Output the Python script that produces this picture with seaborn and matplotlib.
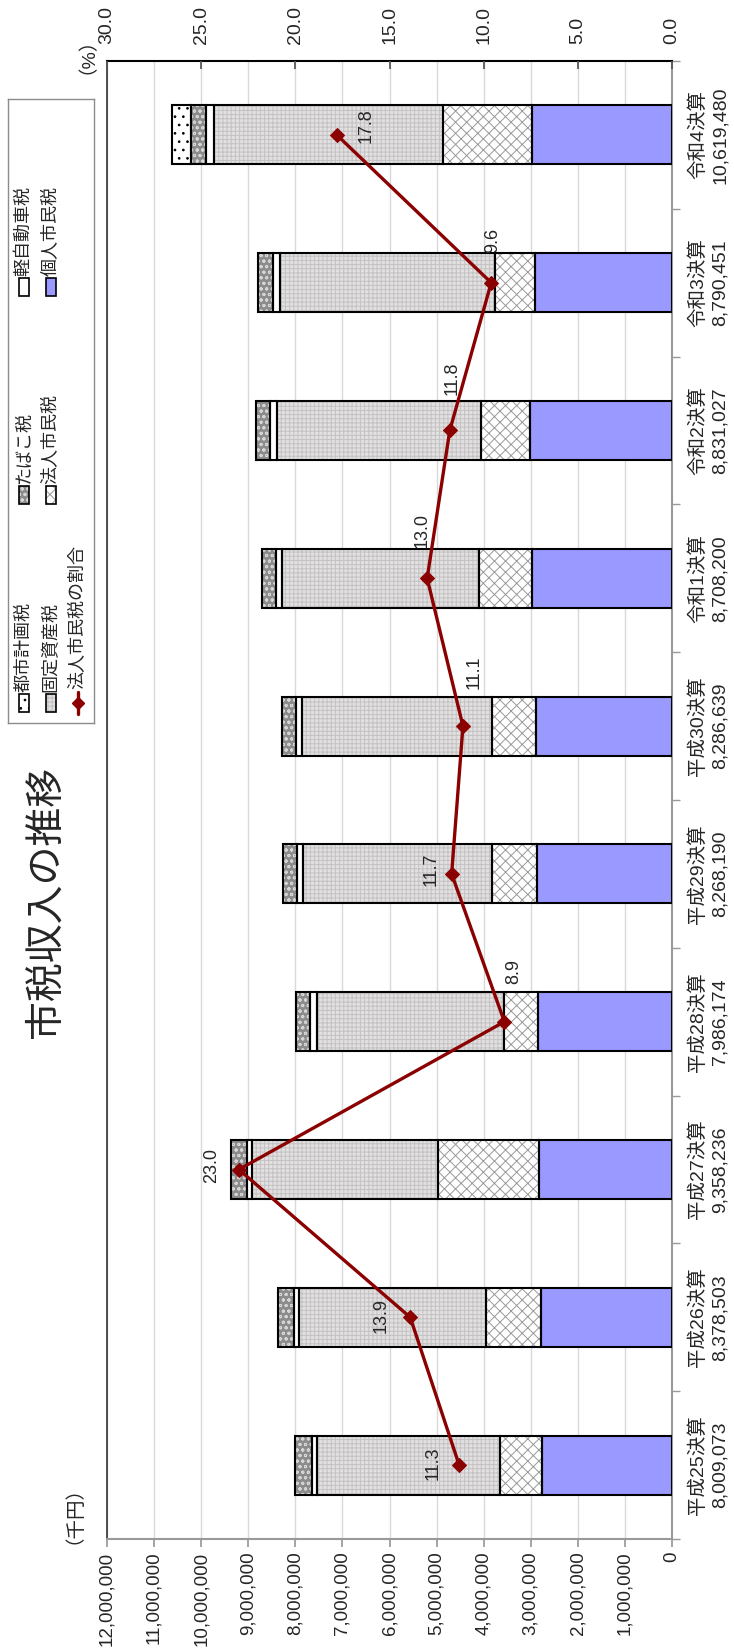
import numpy as np
import matplotlib
matplotlib.use("Agg")
import matplotlib.pyplot as plt
import seaborn as sns
from matplotlib.patches import Rectangle
from matplotlib.lines import Line2D

# ---------------- data ----------------
categories = ["平成25決算", "平成26決算", "平成27決算", "平成28決算", "平成29決算",
              "平成30決算", "令和1決算", "令和2決算", "令和3決算", "令和4決算"]
totals = [8009073, 8378503, 9358236, 7986174, 8268190,
          8286639, 8708200, 8831027, 8790451, 10619480]
kojin = [2754000, 2785000, 2816000, 2848000, 2864000, 2896000, 2975000, 3014000, 2911000, 2967000]
houjin = [905000, 1165000, 2152000, 711000, 967000, 920000, 1132000, 1042000, 844000, 1890000]
kotei = [3887000, 3975000, 3955000, 3991000, 4010000, 4036000, 4166000, 4340000, 4569000, 4868000]
keiji = [110000, 105000, 111000, 135000, 127000, 142000, 135000, 150000, 158000, 166000]
tabako = [353000, 348000, 324000, 301000, 300000, 293000, 300000, 285000, 308000, 317000]
toshi = [0, 0, 0, 0, 0, 0, 0, 0, 0, 411000]
houjin_ratio = [11.3, 13.9, 23.0, 8.9, 11.7, 11.1, 13.0, 11.8, 9.6, 17.8]
value_ticks = [0, 1000000, 2000000, 3000000, 4000000, 5000000, 6000000,
               7000000, 8000000, 9000000, 10000000, 11000000, 12000000]
pct_ticks = [0, 5, 10, 15, 20, 25, 30]
series_names = ["個人市民税", "法人市民税", "固定資産税", "軽自動車税", "たばこ税", "都市計画税"]
ratio_name = "法人市民税の割合"
title = "市税収入の推移"

# ---------------- styles ----------------
LINE_COLOR = "#8b0000"
styles = {
    "個人市民税": dict(fc="#9999ff", hatch=None, hc="none"),
    "法人市民税": dict(fc="white", hatch="xxx", hc="#9a9a9a"),
    "固定資産税": dict(fc="#e2e0e0", hatch="++++", hc="#c4c2c2"),
    "軽自動車税": dict(fc="white", hatch=None, hc="none"),
    "たばこ税": dict(fc="#8c8c8c", hatch="ooo", hc="#d6d6d6"),
    "都市計画税": dict(fc="white", hatch="..", hc="black"),
}
# label offsets (px, right / down) for the ratio data labels
label_offsets = [(-26, -2), (-29, -2), (-27, -4), (9, -50), (-21, -5),
                 (11, -54), (-5, -48), (2, -52), (1, -42), (29, -9)]

sns.set_theme(style="white")
plt.rcParams["font.family"] = ["Liberation Sans", "Noto Sans CJK JP", "DejaVu Sans"]
plt.rcParams["hatch.linewidth"] = 0.7
plt.rcParams["axes.unicode_minus"] = False

W, H = 734, 1650
fig = plt.figure(figsize=(W / 100, H / 100), dpi=100)
fig.patch.set_facecolor("white")

def fx(px):
    return px / W

def fy(py):
    return 1 - py / H

ax = fig.add_axes([fx(107), fy(1539), fx(672) - fx(107), fy(61) - fy(1539)])
ax.set_facecolor("white")

n = len(categories)
ypos = np.arange(n)
bar_h = 0.40
data_series = [kojin, houjin, kotei, keiji, tabako, toshi]

left = np.zeros(n)
for name, vals in zip(series_names, data_series):
    v = np.array(vals, dtype=float)
    m = v > 0
    st = styles[name]
    if st["hatch"]:
        ax.barh(ypos[m], v[m], left=left[m], height=bar_h, color=st["fc"],
                edgecolor=st["hc"], linewidth=0, hatch=st["hatch"], zorder=2)
    else:
        ax.barh(ypos[m], v[m], left=left[m], height=bar_h, color=st["fc"],
                linewidth=0, zorder=2)
    ax.barh(ypos[m], v[m], left=left[m], height=bar_h, fill=False,
            edgecolor="black", linewidth=1.5, zorder=3)
    left = left + v

ax.set_xlim(12000000, 0)
ax.set_ylim(-0.5, n - 0.5)
ax.set_xticks(value_ticks)
ax.set_xticklabels([f"{v:,}" for v in value_ticks], rotation=90, fontsize=13.5)
ax.tick_params(axis="x", which="major", direction="out", length=6, color="#999999",
               pad=3, bottom=True, top=False, labelbottom=True, labeltop=False)
ax.grid(axis="x", color="#d9d9d9", linewidth=1)
ax.grid(axis="y", visible=False)
ax.set_axisbelow(True)

# category axis on the right
ax.yaxis.tick_right()
ax.set_yticks(ypos)
ax.set_yticklabels([f"{c}\n{t:,}" for c, t in zip(categories, totals)],
                   rotation=90, fontsize=14, va="center", ha="left", linespacing=1.35)
ax.set_yticks(np.arange(-0.5, n, 1.0), minor=True)
ax.tick_params(axis="y", which="major", length=0, pad=12, right=True, left=False)
ax.tick_params(axis="y", which="minor", length=6, direction="out", color="#999999",
               right=True, left=False)
for lbl in ax.get_yticklabels():
    lbl.set_multialignment("center")

for side in ["bottom", "right"]:
    ax.spines[side].set_color("#999999")
    ax.spines[side].set_linewidth(1.5)
ax.spines["left"].set_color("#333333")
ax.spines["left"].set_linewidth(1.2)
ax.spines["top"].set_color("black")
ax.spines["top"].set_linewidth(1.5)
ax.set_xlabel("")
ax.set_ylabel("")

# ratio line on a secondary (top) axis
ax2 = ax.twiny()
sns.lineplot(x=houjin_ratio, y=list(ypos), orient="y", estimator=None, ax=ax2,
             color=LINE_COLOR, linewidth=2.4, marker="D", markersize=7,
             markeredgecolor=LINE_COLOR, zorder=5)
ax2.set_xlim(30, 0)
ax2.set_ylim(-0.5, n - 0.5)
ax2.set_xticks(pct_ticks)
ax2.set_xticklabels([f"{v:.1f}" for v in pct_ticks], rotation=90, fontsize=14)
ax2.tick_params(axis="x", direction="in", length=6, color="#555555", pad=12,
                top=True, bottom=False, labeltop=True, labelbottom=False)
ax2.grid(False)
for s in ax2.spines.values():
    s.set_visible(False)
ax2.set_xlabel("")
ax2.set_ylabel("")

for i, (val, off) in enumerate(zip(houjin_ratio, label_offsets)):
    ax2.annotate(f"{val:.1f}", xy=(val, ypos[i]), xytext=(off[0] * 0.72, -off[1] * 0.72),
                 textcoords="offset points", rotation=90, fontsize=13,
                 ha="center", va="center", zorder=6)

# title and unit labels
fig.text(fx(46), fy(902), title, rotation=90, fontsize=28, ha="center", va="center")
fig.text(fx(64), fy(1505), "（千円）", rotation=90, fontsize=14, ha="center", va="center")
fig.text(fx(77), fy(46), "（%）", rotation=90, fontsize=14, ha="center", va="center")

# legend (rotated layout)
lax = fig.add_axes([fx(8), fy(723), fx(94) - fx(8), fy(99) - fy(723)])
lax.set_xlim(0, 86)
lax.set_ylim(624, 0)
lax.set_xticks([])
lax.set_yticks([])
lax.set_facecolor("white")
for s in lax.spines.values():
    s.set_color("#8c8c8c")
    s.set_linewidth(1)

col_x = [16, 43, 70]
row_y = [604, 396, 188]
legend_layout = [
    ("都市計画税", 0, 0), ("たばこ税", 0, 1), ("軽自動車税", 0, 2),
    ("固定資産税", 1, 0), ("法人市民税", 1, 1), ("個人市民税", 1, 2),
]
sw, sh = 10, 18
for name, c, r in legend_layout:
    st = styles[name]
    x0, y0 = col_x[c] - sw / 2, row_y[r] - sh / 2
    if st["hatch"]:
        lax.add_patch(Rectangle((x0, y0), sw, sh, facecolor=st["fc"], edgecolor=st["hc"],
                                hatch=st["hatch"], linewidth=0))
    else:
        lax.add_patch(Rectangle((x0, y0), sw, sh, facecolor=st["fc"], linewidth=0))
    lax.add_patch(Rectangle((x0, y0), sw, sh, fill=False, edgecolor="black", linewidth=1.2))
    lax.text(col_x[c], y0 - 2, name, rotation=90, fontsize=13, ha="center", va="bottom")

lx, ly = col_x[2], row_y[0]
lax.add_line(Line2D([lx, lx], [ly - 11, ly + 11], color=LINE_COLOR, linewidth=2.4))
lax.add_line(Line2D([lx], [ly], color=LINE_COLOR, marker="D", markersize=6))
lax.text(lx, ly - 14, ratio_name, rotation=90, fontsize=13, ha="center", va="bottom")

fig.savefig("out.png", dpi=100, facecolor="white")
